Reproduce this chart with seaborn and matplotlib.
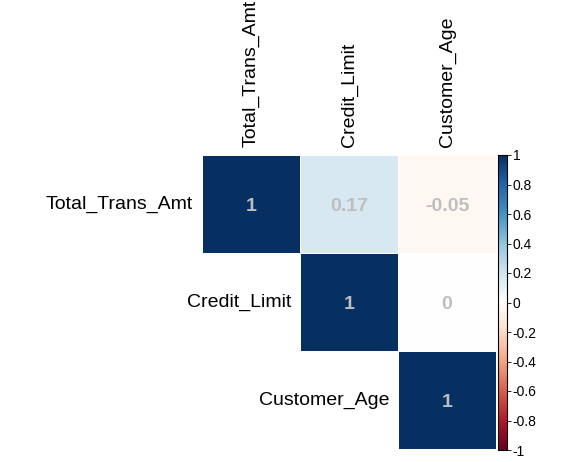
import numpy as np
import pandas as pd
import matplotlib
matplotlib.use('Agg')
import matplotlib.pyplot as plt
from matplotlib.colors import LinearSegmentedColormap
import seaborn as sns

# correlation data
variables = ['Total_Trans_Amt', 'Credit_Limit', 'Customer_Age']
corr_values = [
    [1.00, 0.17, -0.05],
    [0.17, 1.00, 0.00],
    [-0.05, 0.00, 1.00],
]
cbar_ticks = [-1, -0.8, -0.6, -0.4, -0.2, 0, 0.2, 0.4, 0.6, 0.8, 1]

# corrplot-style RdBu palette (white centre)
palette = ['#67001F', '#B2182B', '#D6604D', '#F4A582', '#FDDBC7', '#FFFFFF',
           '#D1E5F0', '#92C5DE', '#4393C3', '#2166AC', '#053061']
cmap = LinearSegmentedColormap.from_list('corr_rdbu', palette, N=200)

sns.set_style('white')
plt.rcParams['font.family'] = ['Liberation Sans', 'DejaVu Sans']
plt.rcParams['text.color'] = 'black'

corr = pd.DataFrame(corr_values, index=variables, columns=variables)
mask = np.tril(np.ones(corr.shape, dtype=bool), k=-1)
annot = corr.map(lambda v: f'{v:g}')

fig = plt.figure(figsize=(5.76, 4.62), dpi=100)
ax = fig.add_axes([202 / 576, 1 - 449 / 462, 294 / 576, 294 / 462])
cax = fig.add_axes([498 / 576, 1 - 450 / 462, 9 / 576, 295 / 462])

sns.heatmap(corr, mask=mask, cmap=cmap, vmin=-1, vmax=1, annot=annot, fmt='',
            annot_kws={'color': '#bebebe', 'fontsize': 14, 'fontweight': 'bold'},
            linewidths=0.6, linecolor='white', square=False,
            cbar_ax=cax, cbar_kws={'ticks': cbar_ticks}, ax=ax)

# nudge the numbers a touch below the cell centre, as in corrplot
for t in ax.texts:
    x, y = t.get_position()
    t.set_position((x, y + 0.03))

# column labels on top
ax.xaxis.tick_top()
ax.set_xticklabels(variables, rotation=90, fontsize=14, va='bottom', color='black')
ax.tick_params(axis='x', length=0, pad=6)
ax.set_yticks([])
ax.set_xlabel('')
ax.set_ylabel('')

# row labels beside the diagonal cells
for i, name in enumerate(variables):
    ax.text(i - 0.09, i + 0.5, name, ha='right', va='center', fontsize=14, color='black')

# colorbar styling
cbar = ax.collections[0].colorbar
cbar.outline.set_visible(True)
cbar.outline.set_edgecolor('black')
cbar.outline.set_linewidth(0.8)
cbar.ax.tick_params(labelsize=10, length=3, width=0.6, pad=1, colors='black')
cbar.ax.set_yticklabels([f'{t:g}' for t in cbar_ticks])

fig.savefig('out.png', dpi=100)
